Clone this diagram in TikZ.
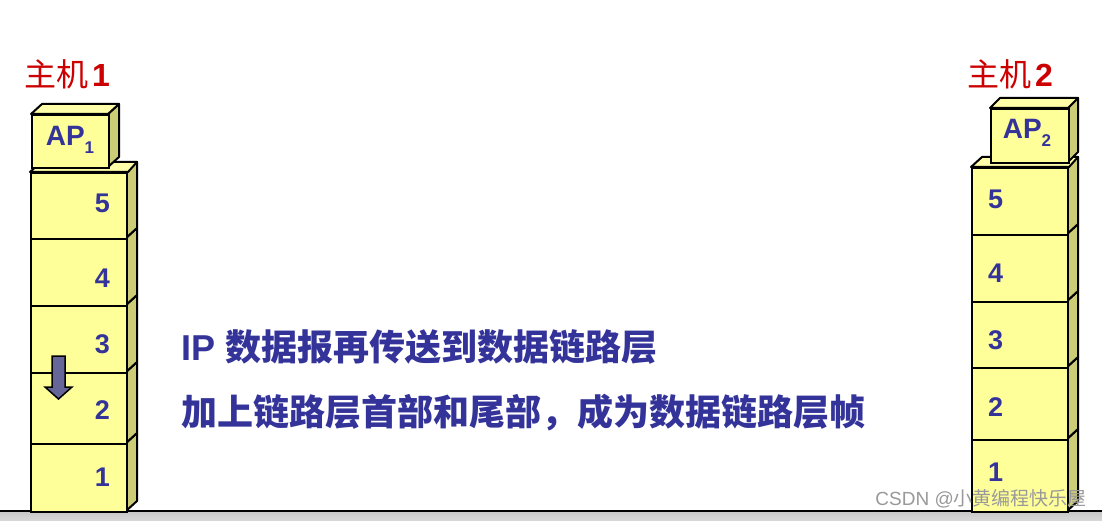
\documentclass[tikz,border=0pt]{standalone}
\usepackage{fontspec}
\setmainfont{Liberation Sans}
\newfontfamily\cjk{Noto Sans CJK SC}
\definecolor{fr}{HTML}{FFFF99}
\definecolor{sd}{HTML}{CCCC77}
\definecolor{tp}{HTML}{FFFFAA}
\definecolor{tx}{HTML}{333399}
\definecolor{rd}{HTML}{CC0000}
\definecolor{ar}{HTML}{666699}
\tikzset{
  front/.style={draw=black, line width=2pt, fill=fr, inner sep=0pt, rectangle},
  side/.style={draw=black, line width=2pt, fill=sd, line join=round},
  topf/.style={draw=black, line width=2pt, fill=tp, line join=round},
  num/.style={text=tx, font=\bfseries\fontsize{27}{30}\selectfont, inner sep=0pt},
  aptext/.style={text=tx, font=\bfseries\fontsize{28}{30}\selectfont, inner sep=0pt},
  host/.style={text=rd, font=\fontsize{32}{36}\selectfont, inner sep=0pt, anchor=base west},
  msg/.style={text=tx, font=\bfseries\fontsize{36}{40}\selectfont, inner sep=0pt, anchor=base west},
  wmark/.style={text=black!40, font=\fontsize{19}{21}\selectfont, inner sep=0pt, anchor=east},
  blockarrow/.style={draw=black, line width=1.5pt, fill=ar, line join=miter},
}
\begin{document}
\begin{tikzpicture}[x=1pt, y=-1pt]
\useasboundingbox (0,0) rectangle (1102,521);
\fill[white] (0,0) rectangle (1102,521);
% floor
\shade[top color=black!22, bottom color=black!15] (0,511) rectangle (1102,521);
\draw[line width=2pt] (0,510.5) -- (1102,510.5);

% ---- left stack ----
\foreach \n/\t/\b/\ny in {1/443/511/477, 2/372/443/410, 3/305/372/344, 4/238/305/278, 5/172/238/203} {
  \draw[side] (126,\t) -- (137,{\t-10}) -- (137,{\b-10}) -- (126,\b) -- cycle;
  \node[front, minimum width=96pt, minimum height={\b-\t}, anchor=north west] (L\n) at (30,\t) {};
  \node[num] (nL\n) at (102.5,\ny) {\n};
}
\draw[topf] (L5.north west) -- ++(11,-10) -- ++(96,0) -- (L5.north east) -- cycle;
% AP1
\draw[side] (108,114) -- (119,104) -- (119,157) -- (108,167) -- cycle;
\draw[topf] (31,114) -- (42,104) -- (119,104) -- (108,114) -- cycle;
\node[front, minimum width=77pt, minimum height=53pt, anchor=north west] (AP1) at (31,114) {};
\node[aptext] (tAP1) at (70,140) {AP\raisebox{-8pt}{\fontsize{17}{17}\selectfont 1}};

% down arrow in layer 3/2
\draw[blockarrow] (52,356) -- (65,356) -- (65,387) -- (72,387) -- (58.5,399) -- (45,387) -- (52,387) -- cycle;

% ---- right stack ----
\foreach \n/\t/\b/\ny in {1/439/511/472, 2/367/439/407, 3/301/367/340, 4/234/301/273, 5/167/234/199} {
  \draw[side] (1067,\t) -- (1078,{\t-10}) -- (1078,{\b-10}) -- (1067,\b) -- cycle;
  \node[front, minimum width=96pt, minimum height={\b-\t}, anchor=north west] (R\n) at (971,\t) {};
  \node[num] (nR\n) at (995.5,\ny) {\n};
}
\draw[topf] (R5.north west) -- ++(11,-10) -- ++(96,0) -- (R5.north east) -- cycle;
% AP2
\draw[side] (1068,108) -- (1078,98) -- (1078,152) -- (1068,162) -- cycle;
\draw[topf] (990,108) -- (1000,98) -- (1078,98) -- (1068,108) -- cycle;
\node[front, minimum width=78pt, minimum height=54pt, anchor=north west] (AP2) at (990,108) {};
\node[aptext] (tAP2) at (1027,133) {AP\raisebox{-8pt}{\fontsize{17}{17}\selectfont 2}};

% host labels
\node[host] (h1) at (24,87) {{\cjk 主机}\hspace{4pt}{\bfseries 1}};
\node[host] (h2) at (967,87) {{\cjk 主机}\hspace{4pt}{\bfseries 2}};

% message
\node[msg] (m1) at (181,360) {IP {\cjk\bfseries 数据报再传送到数据链路层}};
\node[msg] (m2) at (181,425) {{\cjk\bfseries 加上链路层首部和尾部，成为数据链路层帧}};

% watermark
\node[wmark] (wm) at (1087,499) {CSDN @{\cjk 小黄编程快乐屋}};
\end{tikzpicture}
\end{document}
